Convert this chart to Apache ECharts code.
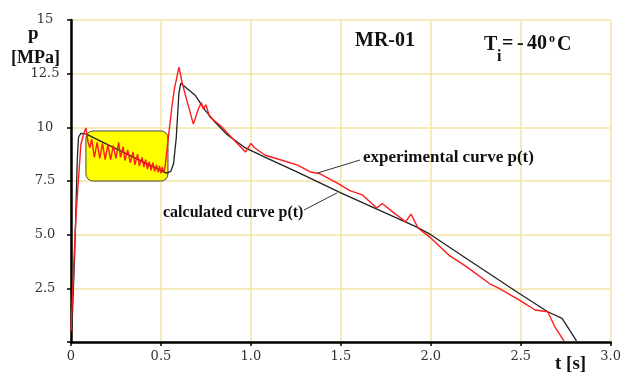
<!DOCTYPE html>
<html>
<head>
<meta charset="utf-8">
<script src="https://cdn.jsdelivr.net/npm/echarts@6/dist/echarts.min.js"></script>
<style>
  html, body { margin: 0; padding: 0; background: #fff; }
  #chart { width: 624px; height: 374px; }
</style>
</head>
<body>
<div id="chart"></div>
<script>
// experimental curve p(t) (red)
const expT = [0.0, 0.01, 0.02, 0.03, 0.04, 0.055, 0.07, 0.083, 0.095, 0.105, 0.115, 0.13, 0.145, 0.16, 0.175, 0.19,
  0.205, 0.22, 0.235, 0.25, 0.265, 0.275, 0.29, 0.3, 0.315, 0.33, 0.345, 0.355, 0.37, 0.38, 0.395, 0.405, 0.415,
  0.425, 0.435, 0.445, 0.455, 0.465, 0.475, 0.485, 0.492, 0.5, 0.507, 0.515, 0.522, 0.53, 0.545, 0.56, 0.575, 0.6,
  0.62, 0.68, 0.71, 0.725, 0.735, 0.75, 0.77, 0.84, 0.89, 0.97, 1.0, 1.02, 1.08, 1.14, 1.26, 1.33, 1.38, 1.48, 1.55,
  1.62, 1.7, 1.73, 1.79, 1.86, 1.89, 1.93, 2.0, 2.1, 2.2, 2.33, 2.38, 2.49, 2.58, 2.65, 2.69, 2.74]
const expP = [0.5, 2.5, 4.5, 6.2, 7.4, 9.2, 9.7, 9.97, 9.3, 9.05, 9.45, 8.6, 9.3, 8.55, 9.25, 8.5,
  9.2, 8.5, 9.15, 8.55, 9.3, 8.6, 9.1, 8.45, 8.95, 8.35, 8.85, 8.25, 8.75, 8.2, 8.6, 8.15, 8.5,
  8.05, 8.4, 8.0, 8.35, 7.95, 8.25, 7.9, 8.2, 7.85, 8.15, 7.9, 8.1, 8.05, 9.8, 10.9, 11.8, 12.8,
  12.0, 10.15, 10.9, 11.15, 10.85, 11.05, 10.5, 10.0, 9.55, 8.85, 9.25, 9.05, 8.7, 8.55, 8.24, 7.92, 7.85, 7.4, 7.05,
  6.85, 6.24, 6.45, 6.05, 5.6, 5.96, 5.3, 4.85, 4.05, 3.5, 2.7, 2.5, 1.96, 1.49, 1.41, 0.71, 0.05]

// calculated curve p(t) (black)
const calcT = [0.005, 0.02, 0.035, 0.042, 0.055, 0.085, 0.3, 0.53, 0.555, 0.57, 0.585, 0.6, 0.61, 0.62, 0.69, 0.745,
  0.8, 0.87, 0.97, 1.08, 1.25, 1.5, 1.75, 1.92, 2.0, 2.2, 2.49, 2.65, 2.73, 2.81]
const calcP = [0.6, 4.0, 8.5, 9.55, 9.72, 9.68, 8.8, 7.87, 7.95, 8.3, 9.5, 11.6, 12.05, 12.1, 11.5, 10.8,
  10.25, 9.64, 9.04, 8.6, 7.95, 6.95, 6.0, 5.36, 5.0, 3.88, 2.27, 1.41, 1.1, 0.05]

const xTickLabels = ['0', '0.5', '1.0', '1.5', '2.0', '2.5', '3.0']
const yTickLabels = ['', '2.5', '5.0', '7.5', '10', '12.5', '15']

const serif = '"Liberation Serif", "Times New Roman", serif'
const tickFont = '"DejaVu Serif", serif'

const chart = echarts.init(document.getElementById('chart'))

const option = {
  animation: false,
  backgroundColor: '#ffffff',
  grid: { left: 71, right: 13, top: 20, bottom: 32 },
  xAxis: {
    type: 'value',
    min: 0,
    max: 3,
    interval: 0.5,
    axisLine: { show: true, onZero: false, lineStyle: { color: '#000', width: 2.5 } },
    axisTick: { show: true, length: 4, lineStyle: { color: '#000', width: 1.5 } },
    axisLabel: {
      margin: 8,
      color: '#333',
      fontFamily: tickFont,
      fontSize: 13,
      formatter: (v) => xTickLabels[Math.round(v / 0.5)]
    },
    splitLine: { show: true, lineStyle: { color: '#f4e4a8', width: 1.5 } }
  },
  yAxis: {
    type: 'value',
    min: 0,
    max: 15,
    interval: 2.5,
    axisLine: { show: true, lineStyle: { color: '#000', width: 2.5 } },
    axisTick: { show: true, length: 4, lineStyle: { color: '#000', width: 1.5 } },
    axisLabel: {
      margin: 26,
      align: 'center',
      color: '#333',
      fontFamily: tickFont,
      fontSize: 13,
      formatter: (v) => yTickLabels[Math.round(v / 2.5)]
    },
    splitLine: { show: true, lineStyle: { color: '#f4e4a8', width: 1.5 } }
  },
  series: [
    {
      name: 'calculated curve p(t)',
      type: 'line',
      showSymbol: false,
      data: calcT.map((t, i) => [t, calcP[i]]),
      lineStyle: { color: '#222', width: 1.3 },
      z: 3
    },
    {
      name: 'experimental curve p(t)',
      type: 'line',
      showSymbol: false,
      data: expT.map((t, i) => [t, expP[i]]),
      lineStyle: { color: '#ff1c1c', width: 1.4 },
      z: 4
    }
  ]
}

chart.setOption(option)

// annotations anchored on data coordinates
const px = (t, p) => chart.convertToPixel({ gridIndex: 0 }, [t, p])
const boxA = px(0.083, 9.83)
const boxB = px(0.539, 7.5)
const expAnchor = px(1.37, 7.87)
const calcAnchor = px(1.48, 6.95)

const txt = (x, y, text, size) => ({
  type: 'text',
  x: x,
  y: y,
  z: 10,
  style: {
    text: text,
    fill: '#111',
    font: 'bold ' + size + 'px ' + serif,
    textAlign: 'left',
    textVerticalAlign: 'middle'
  }
})

chart.setOption({
  graphic: [
    {
      type: 'rect',
      z: 1,
      shape: { x: boxA[0], y: boxA[1], width: boxB[0] - boxA[0], height: boxB[1] - boxA[1], r: 7 },
      style: { fill: '#ffff00', stroke: '#444', lineWidth: 1 }
    },
    {
      type: 'line',
      z: 10,
      shape: { x1: expAnchor[0], y1: expAnchor[1], x2: 360, y2: 160 },
      style: { stroke: '#333', lineWidth: 1 }
    },
    {
      type: 'line',
      z: 10,
      shape: { x1: calcAnchor[0], y1: calcAnchor[1], x2: 304, y2: 210 },
      style: { stroke: '#333', lineWidth: 1 }
    },
    txt(363, 158, 'experimental curve p(t)', 17),
    txt(163, 213, 'calculated curve p(t)', 16),
    txt(355, 41, 'MR-01', 20),
    txt(484, 45, 'T', 20),
    txt(497, 57, 'i', 16),
    txt(502, 44, '=', 20),
    txt(517, 44, '-', 20),
    txt(527, 44, '40', 20),
    txt(549, 39, 'o', 12),
    txt(557, 45, 'C', 20),
    txt(28, 34, 'p', 19),
    txt(11, 58, '[MPa]', 18),
    txt(555, 364, 't [s]', 19)
  ]
})
</script>
</body>
</html>
